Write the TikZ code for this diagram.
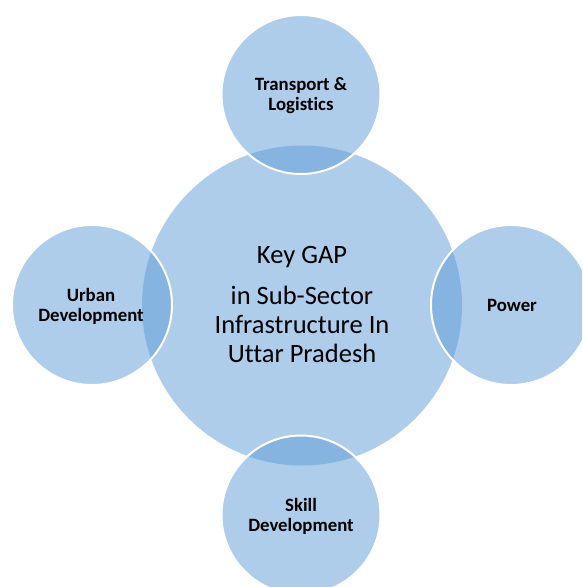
\documentclass[tikz,border=0pt]{standalone}
\usepackage{fontspec}
\setmainfont{Carlito}[Ligatures={NoCommon}]
\definecolor{accentblue}{HTML}{5B9BD5}
\begin{document}
\begin{tikzpicture}[x=1pt,y=-1pt,
  hub/.style={fill=accentblue,fill opacity=0.5},
  spoke/.style={fill=accentblue,fill opacity=0.5,draw=white,line width=2pt},
  hubtext/.style={font=\fontsize{26.5}{29}\selectfont,align=center,text=black},
  spoketext/.style={font=\fontsize{18.8}{20}\selectfont\bfseries,align=center,text=black}]
  \useasboundingbox (0,0) rectangle (582,587);
  \clip (0,0) rectangle (582,587);
  % central circle and the four satellites
  \fill[hub] (302,305.5) circle[radius=160];
  \filldraw[spoke] (301,94.5) circle[radius=79.5];
  \filldraw[spoke] (92,305) circle[radius=80];
  \filldraw[spoke] (511,305) circle[radius=80];
  \filldraw[spoke] (301,515) circle[radius=79.5];
  % labels
  \node[hubtext] (hub) at (302,304) {Key GAP\\[12pt]in Sub-Sector\\Infrastructure In\\Uttar Pradesh};
  \node[spoketext] (top) at (301,95.5) {Transport \&\\Logistics};
  \node[spoketext] (left) at (91,306.5) {Urban\\Development};
  \node[spoketext] (right) at (512,305.5) {Power};
  \node[spoketext] (bottom) at (301,516) {Skill\\Development};
\end{tikzpicture}
\end{document}
